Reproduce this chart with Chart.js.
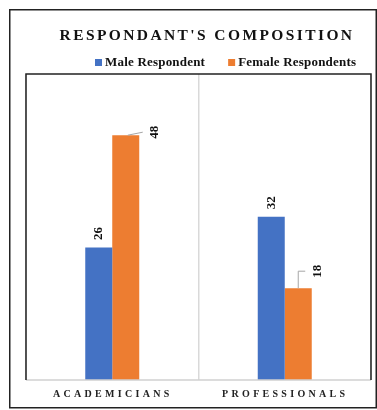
<!DOCTYPE html>
<html>
<head>
<meta charset="utf-8">
<script src="https://cdn.jsdelivr.net/npm/chart.js@4.4.1/dist/chart.umd.min.js"></script>
<style>
  html, body { margin: 0; padding: 0; background: #fff; }
  #wrap { position: relative; width: 377px; height: 410px; }
</style>
</head>
<body>
<div id="wrap"><canvas id="chart" width="377" height="410"></canvas></div>
<script>
// Chart data
const categories = ['ACADEMICIANS', 'PROFESSIONALS'];
const seriesNames = ['Male Respondent', 'Female Respondents'];
const maleValues = [26, 32];
const femaleValues = [48, 18];
const seriesColors = ['#4472C4', '#ED7D31'];
const chartTitle = "RESPONDANT'S COMPOSITION";

const SERIF = '"Liberation Serif", "Times New Roman", serif';

// label offsets relative to bar top (px), dragged labels in the original
const labelOffsets = [
    [{ dx: 0, dy: -14, leader: null }, { dx: 0, dy: -14, leader: null }],
    [{ dx: 29, dy: -3, leader: 'slant' }, { dx: 19, dy: -17, leader: 'elbow' }]
];

// Draws frame, title, legend, category labels and value labels
const decorPlugin = {
    id: 'decor',
    beforeDraw(chart) {
        const ctx = chart.ctx;
        ctx.save();
        ctx.fillStyle = '#fff';
        ctx.fillRect(0, 0, chart.width, chart.height);
        ctx.strokeStyle = '#222';
        ctx.lineWidth = 1.5;
        ctx.strokeRect(9.75, 9.75, 366.5, 398);
        ctx.restore();
    },
    afterDraw(chart) {
        const ctx = chart.ctx;
        const area = chart.chartArea;
        const xScale = chart.scales.x;
        ctx.save();

        // plot area border
        ctx.lineWidth = 1.5;
        ctx.strokeStyle = '#d0d0d0';
        ctx.beginPath();
        ctx.moveTo(area.left, area.bottom);
        ctx.lineTo(area.right, area.bottom);
        ctx.stroke();
        ctx.strokeStyle = '#222';
        ctx.beginPath();
        ctx.moveTo(area.left, area.bottom);
        ctx.lineTo(area.left, area.top);
        ctx.lineTo(area.right, area.top);
        ctx.lineTo(area.right, area.bottom);
        ctx.stroke();

        // title
        ctx.fillStyle = '#111';
        ctx.textAlign = 'center';
        ctx.textBaseline = 'middle';
        ctx.font = 'bold 15.5px ' + SERIF;
        ctx.letterSpacing = '2.4px';
        ctx.fillText(chartTitle, 207, 36);

        // legend
        ctx.font = 'bold 13px ' + SERIF;
        ctx.letterSpacing = '0.2px';
        ctx.textAlign = 'left';
        let lx = 95;
        chart.data.datasets.forEach((ds, i) => {
            ctx.fillStyle = ds.backgroundColor;
            ctx.fillRect(lx, 59, 7, 7);
            ctx.fillStyle = '#111';
            ctx.fillText(ds.label, lx + 10, 63);
            lx += 10 + ctx.measureText(ds.label).width + 23;
        });

        // category labels
        ctx.font = 'bold 10px ' + SERIF;
        ctx.letterSpacing = '3.3px';
        ctx.textAlign = 'center';
        ctx.fillStyle = '#222';
        categories.forEach((c, i) => {
            ctx.fillText(c, xScale.getPixelForValue(i) + 0.5, area.bottom + 14);
        });

        // value labels
        ctx.letterSpacing = '0px';
        ctx.font = 'bold 13px ' + SERIF;
        chart.data.datasets.forEach((ds, di) => {
            const meta = chart.getDatasetMeta(di);
            meta.data.forEach((bar, i) => {
                const off = labelOffsets[di][i];
                const lxp = bar.x + off.dx;
                const lyp = bar.y + off.dy;
                if (off.leader) {
                    ctx.strokeStyle = '#a6a6a6';
                    ctx.lineWidth = 1;
                    ctx.beginPath();
                    if (off.leader === 'slant') {
                        ctx.moveTo(bar.x + 2, bar.y);
                        ctx.lineTo(lxp - 12, lyp);
                    } else {
                        ctx.moveTo(bar.x, bar.y);
                        ctx.lineTo(bar.x, lyp);
                        ctx.lineTo(lxp - 12, lyp);
                    }
                    ctx.stroke();
                }
                ctx.save();
                ctx.translate(lxp, lyp);
                ctx.rotate(-Math.PI / 2);
                ctx.fillStyle = '#111';
                ctx.textAlign = 'center';
                ctx.textBaseline = 'middle';
                ctx.fillText(String(ds.data[i]), 0, 0);
                ctx.restore();
            });
        });
        ctx.restore();
    }
};

const ctx = document.getElementById('chart').getContext('2d');
new Chart(ctx, {
    type: 'bar',
    data: {
        labels: categories,
        datasets: [
            { label: seriesNames[0], data: maleValues, backgroundColor: seriesColors[0] },
            { label: seriesNames[1], data: femaleValues, backgroundColor: seriesColors[1] }
        ]
    },
    options: {
        responsive: false,
        animation: false,
        layout: { padding: { top: 74, left: 26, right: 6, bottom: 30 } },
        datasets: {
            bar: { categoryPercentage: 0.313, barPercentage: 1, borderWidth: 0 }
        },
        plugins: {
            legend: { display: false },
            title: { display: false },
            tooltip: { enabled: false }
        },
        scales: {
            x: {
                grid: { color: '#d9d9d9', lineWidth: 1.5, drawTicks: false },
                border: { display: false },
                ticks: { display: false }
            },
            y: {
                display: false,
                min: 0,
                max: 60
            }
        }
    },
    plugins: [decorPlugin]
});
</script>
</body>
</html>
